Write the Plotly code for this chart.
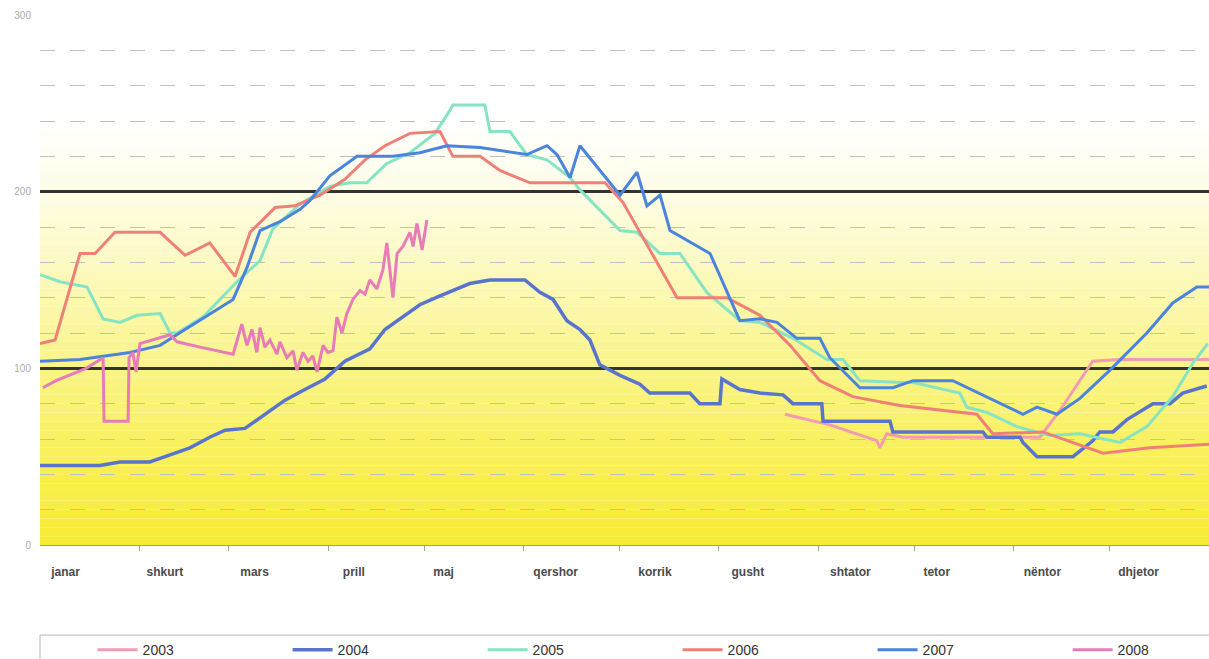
import plotly.graph_objects as go

# ---- data (day of year, value) ----
months = ["janar", "shkurt", "mars", "prill", "maj", "qershor", "korrik",
          "gusht", "shtator", "tetor", "nëntor", "dhjetor"]
month_label_pos = [8, 39, 67, 98, 126, 161, 192, 221, 253, 280, 313, 343]
month_starts = [31, 59, 90, 120, 151, 181, 212, 243, 273, 304, 334]
y_ticks = [0, 100, 200, 300]

d2003 = [232.6, 246.6, 261.3, 262.2, 264.4, 269.4, 297.5, 312.2, 318.4, 328.7, 337.2, 365]
v2003 = [74, 68, 59, 55, 63, 61, 61, 61, 76, 104, 105, 105]

d2004 = [0, 18.7, 25, 34.3, 40.6, 46.8, 53, 57.8, 64, 70.2, 76.5, 82.7, 89, 95.2, 103, 107.7,
         112.4, 118.6, 124.9, 134.2, 140.5, 151.4, 156.1, 160.2, 164.5, 168.6, 171.7, 174.8,
         181.1, 187.3, 190.4, 202.9, 206, 212.3, 212.9, 218.5, 224.8, 232, 235.1, 244.1, 244.5,
         265.4, 266.3, 294.4, 295.7, 306, 306.9, 311.3, 322.5, 328.7, 330.9, 335, 339.4, 347.5,
         352.8, 356.8, 364.3]
v2004 = [45, 45, 47, 47, 51, 55, 61, 65, 66, 74, 82, 88, 94, 104, 111, 122,
         128, 136, 141, 148, 150, 150, 143, 139, 127, 122, 116, 102,
         96, 91, 86, 86, 80, 80, 94, 88, 86, 85, 80, 80, 70,
         70, 64, 64, 61, 61, 58, 50, 50, 59, 64, 64, 71, 80,
         80, 86, 90]

d2005 = [0, 6.2, 14.7, 19.7, 25, 30.3, 37.5, 40.6, 42.8, 50.9, 61.5, 68.7, 72.7, 81.2, 90.5,
         96.8, 102, 108.3, 115.5, 123.3, 128, 128.9, 138.9, 140.5, 146.7, 152, 158.3, 165.5,
         168.6, 181.1, 186.4, 193.6, 199.8, 208.2, 218.5, 224.8, 235.1, 245.7, 250.7, 256,
         269.4, 272.6, 287.2, 289.4, 295.7, 305, 315.3, 324.7, 337.2, 345.6, 353.7, 360, 364.6]
v2005 = [153, 149, 146, 128, 126, 130, 131, 120, 120, 129, 149, 161, 179, 193, 203,
         205, 205, 216, 222, 233, 246, 249, 249, 234, 234, 221, 218, 208,
         201, 178, 177, 165, 165, 143, 127, 126, 117, 105, 105, 93,
         92, 92, 86, 78, 75, 67, 62, 63, 58, 67, 84, 103, 114]

d2006 = [0, 4.7, 12.5, 17.2, 23.4, 37.5, 45.3, 53, 60.9, 65.6, 73.4, 79.6, 87.4, 95.2, 101.5,
         107.7, 115.5, 124.9, 128.9, 137.4, 143.6, 153, 176.4, 182, 198.9, 214.5, 224.8,
         234.2, 243.5, 253.8, 268.5, 292.5, 297.5, 313.1, 331.9, 346.5, 365]
v2006 = [114, 116, 165, 165, 177, 177, 164, 171, 152, 177, 191, 192, 198, 207, 218,
         226, 233, 234, 220, 220, 212, 205, 205, 194, 140, 140, 130,
         113, 93, 84, 79, 74, 63, 64, 52, 55, 57]

d2007 = [0, 12.5, 28.1, 37.5, 45.3, 60.3, 64.6, 68.7, 74.9, 81.2, 84.3, 90.5, 99, 110.2, 118.6,
         127, 137.4, 152, 158.3, 161.4, 165.5, 168.6, 181.1, 186.4, 189.5, 193.6, 196.7, 209.2,
         218.5, 224.8, 230.1, 236.3, 243.5, 246.6, 256, 266.3, 272.6, 285, 306.9, 311.3, 317.5,
         324.7, 334.1, 345.6, 353.7, 361.2, 365]
v2007 = [104, 105, 109, 113, 122, 139, 157, 178, 183, 190, 195, 209, 220, 220, 222,
         226, 225, 221, 226, 221, 208, 226, 198, 211, 192, 198, 178, 165,
         127, 128, 126, 117, 117, 106, 89, 89, 93, 93, 74, 78, 74,
         83, 99, 120, 137, 146, 146]

d2008 = [0.9, 5, 14.4, 19.7, 20, 27.5, 27.8, 29, 30, 31.2, 40.6, 42.8, 50, 60.3, 63, 64.6,
         66.2, 67.7, 68.7, 70.2, 71.8, 74, 74.9, 77.1, 79, 80.2, 82.1, 83.7, 85.2, 86.5, 88.4,
         89.9, 91.5, 92.7, 94.3, 95.8, 97.7, 99.9, 101.5, 103, 105.2, 107.1, 108.3, 110.2,
         111.5, 113.3, 115.5, 116.5, 117.7, 119.3, 120.8]
v2008 = [89, 93, 100, 106, 70, 70, 106, 109, 98, 114, 119, 115, 112, 108, 125, 113,
         122, 109, 123, 112, 116, 108, 115, 106, 110, 99, 109, 104, 107, 98, 113,
         109, 110, 129, 120, 131, 139, 144, 142, 150, 145, 156, 171, 140,
         165, 169, 177, 169, 182, 167, 184]

series = [
    ("2003", d2003, v2003, "#f39bb3", 3),
    ("2004", d2004, v2004, "#5874cc", 3.5),
    ("2005", d2005, v2005, "#86e3c3", 3),
    ("2006", d2006, v2006, "#ef8078", 3),
    ("2007", d2007, v2007, "#4a84dc", 3),
    ("2008", d2008, v2008, "#e77cb8", 3),
]

fig = go.Figure()
for name, d, v, col, w in series:
    fig.add_trace(go.Scatter(x=d, y=v, mode="lines", name=name,
                             line=dict(color=col, width=w)))

# ---- background gradient (white top -> yellow bottom) ----
stops = [(0, (247, 236, 50)), (50, (249, 240, 88)), (100, (250, 244, 135)),
         (150, (252, 249, 185)), (200, (254, 253, 230)), (240, (255, 255, 255)),
         (300, (255, 255, 255))]

def col_at(v):
    for (a, ca), (b, cb) in zip(stops[:-1], stops[1:]):
        if a <= v <= b:
            t = (v - a) / (b - a)
            c = [round(ca[i] + (cb[i] - ca[i]) * t) for i in range(3)]
            return "rgb(%d,%d,%d)" % tuple(c)
    return "white"

shapes = []
n = 60
for i in range(n):
    y0 = 300 * i / n
    y1 = 300 * (i + 1) / n
    shapes.append(dict(type="rect", xref="paper", yref="y", x0=0, x1=1, y0=y0, y1=y1,
                       fillcolor=col_at((y0 + y1) / 2), line=dict(width=0), layer="below"))
# legend box
shapes.append(dict(type="rect", xref="paper", yref="paper", x0=0, x1=1.01,
                   y0=-0.32, y1=-0.17, line=dict(color="#b5b5b5", width=1),
                   fillcolor="rgba(0,0,0,0)"))

fig.update_layout(
    width=1209, height=659, autosize=False,
    margin=dict(l=40, r=0, t=15, b=114, autoexpand=False),
    paper_bgcolor="white", plot_bgcolor="white",
    shapes=shapes,
    showlegend=True,
    legend=dict(orientation="h", x=0.045, xanchor="left", y=-0.168, yanchor="top",
                entrywidth=140, entrywidthmode="pixels", itemwidth=40,
                font=dict(family="Arial, Liberation Sans", size=14, color="#333"),
                bgcolor="rgba(0,0,0,0)", traceorder="normal"),
    xaxis=dict(range=[0, 365], tickmode="array", tickvals=month_label_pos, ticktext=months,
               ticks="", showgrid=False, zeroline=False, automargin=False,
               showline=True, linecolor="#9a9a9a", linewidth=1,
               tickfont=dict(family="Arial, Liberation Sans", size=12, color="#4a4a4a", weight="bold"),
               ticklabelstandoff=16,
               minor=dict(tickmode="array", tickvals=month_starts, ticks="outside",
                          ticklen=5, tickcolor="#a0a0a0", showgrid=False)),
    yaxis=dict(range=[0, 300], tickmode="array", tickvals=y_ticks, ticks="",
               showgrid=True, gridcolor="#333333", gridwidth=2.5, automargin=False,
               zeroline=True, zerolinecolor="#9a9a9a", zerolinewidth=1,
               tickfont=dict(family="Arial, Liberation Sans", size=10, color="#aaaaaa"),
               ticklabelstandoff=8,
               minor=dict(dtick=20, showgrid=True, gridcolor="#c0c0c0", griddash="longdash",
                          gridwidth=1)),
)

post = ("document.body.style.margin='0';document.body.style.overflow='hidden';"
        "document.documentElement.style.overflow='hidden';"
        "var gd=document.getElementById('{plot_id}');"
        "Plotly.relayout(gd,{width:1209,height:659});")
fig.write_html("out.html", config={"responsive": False, "displayModeBar": False},
               post_script=post)
